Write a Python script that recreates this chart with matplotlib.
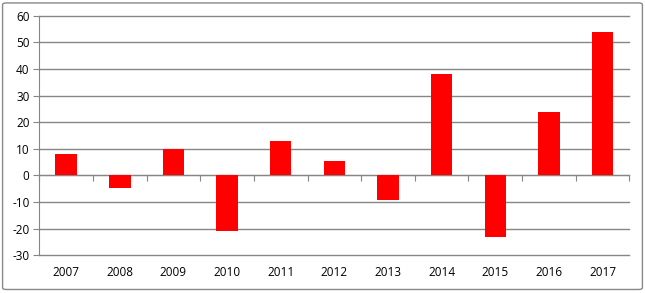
import matplotlib
matplotlib.use('Agg')
import matplotlib.pyplot as plt
from matplotlib.patches import FancyBboxPatch
import numpy as np

years  = ['2007', '2008', '2009', '2010', '2011', '2012', '2013', '2014', '2015', '2016', '2017']
values = [8, -4.7, 10, -21, 13, 5.6, -9.4, 38, -23.3, 23.7, 54]
y_ticks = list(range(-30, 70, 10))

grid_col = '#868686'
plt.rcParams['font.family'] = ['Open Sans', 'DejaVu Sans']
plt.rcParams['axes.unicode_minus'] = False

fig = plt.figure(figsize=(6.45, 2.93), dpi=100)
ax = fig.add_axes([0.061, 0.1287, 0.9147, 0.8177])

x = np.arange(len(years))
ax.bar(x, values, width=0.4, color='#ff0000', zorder=3)

ax.set_xlim(-0.5, len(years) - 0.5)
ax.set_ylim(-30, 60)
ax.set_yticks(y_ticks)
ax.yaxis.grid(True, color=grid_col, linewidth=1)
for gl in ax.yaxis.get_gridlines():
    gl.set_clip_on(False)
ax.set_axisbelow(True)
ax.tick_params(axis='y', direction='out', length=4, color=grid_col,
               labelsize=8.5, pad=3)

# category axis line at zero with ticks between categories
ax.spines['bottom'].set_position(('data', 0))
ax.spines['bottom'].set_color(grid_col)
ax.spines['left'].set_color(grid_col)
ax.spines['top'].set_visible(False)
ax.spines['right'].set_visible(False)
ax.set_xticks(np.arange(len(years) + 1) - 0.5)
ax.set_xticklabels([])
ax.tick_params(axis='x', direction='out', length=4, color=grid_col)

# labels sit below the plot area
sec = ax.secondary_xaxis(0.0)
sec.set_xticks(x)
sec.set_xticklabels(years)
sec.tick_params(length=0, labelsize=8.5, pad=8)
sec.spines['bottom'].set_visible(False)

border = FancyBboxPatch((0.004, 0.012), 0.992, 0.978,
                        boxstyle='round,pad=0,rounding_size=0.006',
                        transform=fig.transFigure, fill=False,
                        edgecolor='#888888', linewidth=1)
fig.patches.append(border)

fig.savefig('out.png', dpi=100)
